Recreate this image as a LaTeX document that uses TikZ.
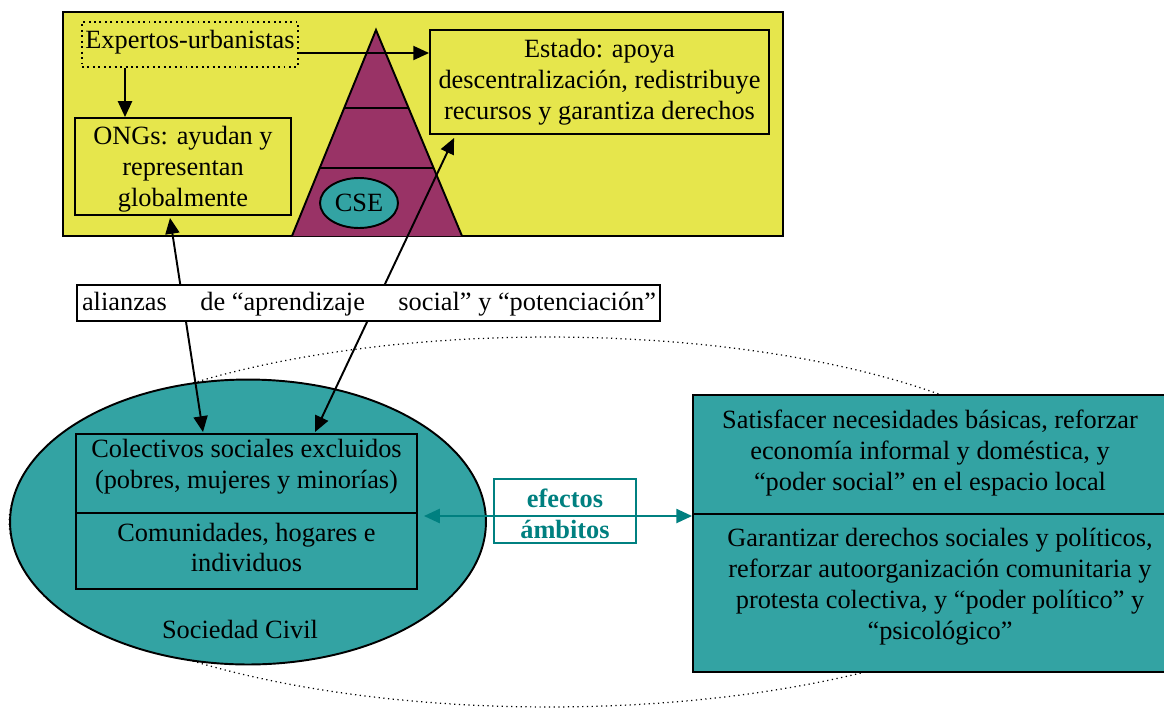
\documentclass[tikz,border=0pt]{standalone}
\usepackage{fontspec}
\setmainfont{Liberation Serif}
\usetikzlibrary{arrows.meta,shapes.geometric}
\definecolor{panelyellow}{RGB}{230,230,76}
\definecolor{pyrmag}{RGB}{153,51,102}
\definecolor{tealfill}{RGB}{51,163,163}
\definecolor{tealdark}{RGB}{0,128,128}
\tikzset{
  txt/.style={font=\fontsize{15}{17.6}\selectfont, align=center, inner sep=0pt},
  box/.style={draw, line width=1.1pt, inner sep=0pt},
  arr/.style={line width=1.1pt, -{Triangle[length=9pt,width=8pt]}},
  dblarr/.style={line width=1.1pt, {Triangle[length=9pt,width=8pt]}-{Triangle[length=9pt,width=8pt]}},
  tealarr/.style={line width=1.3pt, draw=tealdark, {Triangle[length=9pt,width=8pt]}-{Triangle[length=9pt,width=8pt]}},
}
\begin{document}
\begin{tikzpicture}[x=0.02cm,y=-0.02cm]
\useasboundingbox (0,0) rectangle (1164,708);
% outer dotted ellipse
\node[ellipse, draw, dotted, line width=0.7pt, minimum width=21.6cm, minimum height=7.4cm, inner sep=0pt] (outer) at (549,522) {};
% Sociedad civil ellipse
\node[ellipse, draw, fill=tealfill, line width=1.1pt, minimum width=9.52cm, minimum height=5.7cm, inner sep=0pt] (soc) at (248,522) {};
\node[box, minimum width=6.82cm, minimum height=1.58cm] (colA) at (246.5,473.5) {};
\node[box, minimum width=6.82cm, minimum height=1.52cm] (colB) at (246.5,551) {};
\node[txt] (colAt) at (246.5,467) {Colectivos sociales excluidos\\(pobres, mujeres y minorías)};
\node[txt] (colBt) at (246.5,547.5) {Comunidades, hogares e\\individuos};
\node[txt] (soct) at (240,629) {Sociedad Civil};
% right teal box
\node[box, fill=tealfill, minimum width=9.64cm, minimum height=2.38cm] (tealA) at (934,454.5) {};
\node[box, fill=tealfill, minimum width=9.64cm, minimum height=3.16cm] (tealB) at (934,593) {};
\node[txt] (tealAt) at (930,453) {Satisfacer necesidades básicas, reforzar\\economía informal y doméstica, y\\“poder social” en el espacio local};
\node[txt] (tealBt) at (940,586.5) {Garantizar derechos sociales y políticos,\\reforzar autoorganización comunitaria y\\protesta colectiva, y “poder político” y\\“psicológico”};
% top yellow panel
\node[box, fill=panelyellow, minimum width=14.4cm, minimum height=4.48cm] (panel) at (423,124) {};
% pyramid
\coordinate (pl) at (292,236);
\coordinate (pa) at (376,30);
\coordinate (pr) at (462,236);
\fill[pyrmag] (pl) -- (pa) -- (pr) -- cycle;
\draw[line width=1.1pt] (pl) -- (pa) -- (pr);
\draw[line width=1.1pt] (344.2,108) -- (408.6,108);
\draw[line width=1.1pt] (319.7,168) -- (433.6,168);
\node[ellipse, draw, fill=tealfill, line width=1.1pt, minimum width=1.56cm, minimum height=1.0cm, inner sep=0pt, font=\fontsize{15}{17.6}\selectfont] (cse) at (359,203) {CSE};
% boxes in panel
\node[draw, dotted, line width=1.1pt, inner sep=0pt, minimum width=4.32cm, minimum height=0.9cm] (expertos) at (190,44.5) {};
\node[txt] (expertost) at (190,42) {Expertos-urbanistas};
\node[box, minimum width=4.32cm, minimum height=1.94cm] (ongs) at (183,166.5) {};
\node[txt] (ongst) at (183,169) {ONGs: ayudan y\\representan\\globalmente};
\node[box, minimum width=6.78cm, minimum height=2.08cm] (estado) at (599.5,82) {};
\node[txt] (estadot) at (599.5,82) {Estado: apoya\\descentralización, redistribuye\\recursos y garantiza derechos};
% arrows in panel
\coordinate (e1) at ([xshift=-1.3cm]expertos.south);
\draw[arr] (e1) -- (e1 |- ongs.north);
\coordinate (e2) at ([yshift=-0.17cm]expertos.east);
\draw[arr] (e2) -- (e2 -| estado.west);
% long double arrows
\coordinate (o1) at ([xshift=-0.26cm,yshift=-0.04cm]ongs.south);
\coordinate (c1) at ([xshift=-0.87cm,yshift=0.02cm]colA.north);
\draw[dblarr] (o1) -- (c1);
\coordinate (s1) at ([xshift=0.5cm,yshift=-0.06cm]estado.south west);
\coordinate (c2) at ([xshift=1.37cm,yshift=0.02cm]colA.north);
\draw[dblarr] (s1) -- (c2);
% alianzas box
\node[box, fill=white, minimum width=11.66cm, minimum height=0.72cm] (alianzas) at (368.5,303) {};
\node[txt] (alianzast) at (369,304) {alianzas\hspace{1.02em} de “aprendizaje\hspace{1.02em} social” y “potenciación”};
% efectos box and teal arrow
\node[draw=tealdark, fill=white, line width=1.1pt, inner sep=0pt, minimum width=2.84cm, minimum height=1.28cm] (efectos) at (565,511) {};
\coordinate (t1) at ([xshift=3.52cm,yshift=0.12cm]soc.center);
\draw[tealarr] (t1) -- (t1 -| tealB.north west);
\node[txt, text=tealdark, font=\fontsize{15}{17.6}\selectfont\bfseries] (efectost) at (565,514) {efectos\\ámbitos};
\end{tikzpicture}
\end{document}
